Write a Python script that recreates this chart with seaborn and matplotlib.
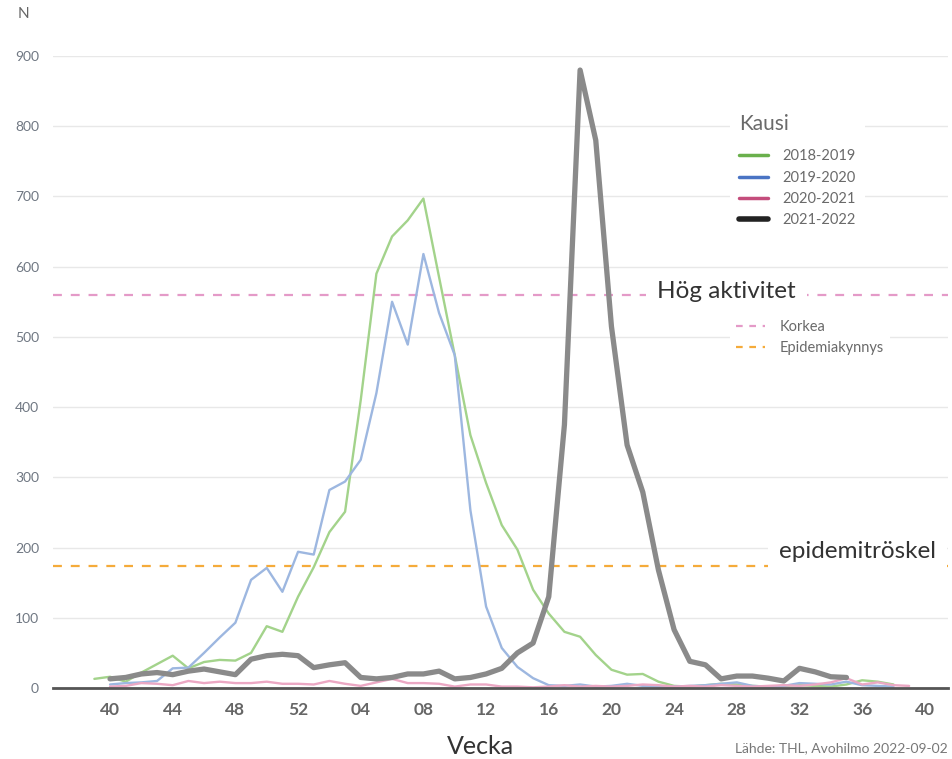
import numpy as np
import pandas as pd
import matplotlib
matplotlib.use('Agg')
import matplotlib.pyplot as plt
from matplotlib.lines import Line2D
import seaborn as sns

# weeks of one season, from week 39 to week 40 of the next year
weeks = list(range(39, 53)) + list(range(1, 41))
pos = list(range(len(weeks)))

# 2018-2019: weeks 39..38
s1819 = [13, 16, 9, 22, 34, 46, 28, 37, 40, 39, 50, 88, 80, 130,
         172, 222, 251, 410, 590, 643, 666, 697, 585, 474, 360, 292, 232, 197,
         140, 106, 80, 73, 47, 26, 19, 20, 9, 3, 2, 4, 6, 5, 3, 2, 3, 4, 3, 2,
         5, 11, 9, 5]
# 2019-2020: weeks 40..38
s1920 = [5, 7, 8, 10, 28, 29, 50, 72, 93, 154, 171, 137, 194,
         190, 282, 294, 325, 420, 550, 489, 618, 534, 474, 253, 116, 57, 30,
         14, 4, 3, 5, 2, 3, 6, 3, 2, 2, 3, 4, 6, 8, 3, 2, 3, 7, 6, 5, 9, 4, 3, 2]
# 2020-2021: weeks 40..39
s2021 = [2, 3, 7, 6, 4, 10, 7, 9, 7, 7, 9, 6, 6,
         5, 10, 6, 3, 8, 13, 7, 7, 6, 2, 5, 5, 2, 2, 1, 2, 4, 2, 3, 2, 3, 5, 4,
         2, 3, 2, 4, 3, 2, 3, 4, 3, 5, 8, 14, 5, 8, 4, 3]
# 2021-2022: weeks 40..35
s2122 = [13, 15, 20, 22, 19, 24, 27, 23, 19, 41, 46, 48, 46,
         29, 33, 36, 15, 13, 15, 20, 20, 24, 13, 15, 20, 28, 50, 64, 130, 375,
         880, 780, 515, 346, 279, 168, 83, 38, 33, 13, 17, 17, 14, 10, 28, 23,
         16, 15]

seasons = ['2018-2019', '2019-2020', '2020-2021', '2021-2022']
series = [s1819, s1920, s2021, s2122]
start_pos = [0, 1, 1, 1]

korkea = 560
epidemiakynnys = 174

tick_weeks = [40, 44, 48, 52, 4, 8, 12, 16, 20, 24, 28, 32, 36, 40]

rows = []
for name, vals, st in zip(seasons, series, start_pos):
    for i, v in enumerate(vals):
        rows.append({'Kausi': name, 'pos': pos[st + i], 'N': v})
df = pd.DataFrame(rows)

sns.set_theme(style='white')
plt.rcParams['font.family'] = ['Lato', 'DejaVu Sans']

fig = plt.figure(figsize=(9.52, 7.59), dpi=100)
ax = fig.add_axes([53 / 952, 1 - 688 / 759, 895 / 952, 632 / 759])

plot_colors = {'2018-2019': '#a3d38b', '2019-2020': '#9db7e0',
               '2020-2021': '#eba8c4', '2021-2022': '#8a8a8a'}
legend_colors = {'2018-2019': '#6ab04c', '2019-2020': '#4a74c4',
                 '2020-2021': '#c44d7c', '2021-2022': '#222222'}
widths = {'2018-2019': 1.7, '2019-2020': 1.7, '2020-2021': 1.7, '2021-2022': 3.8}

for name in seasons:
    sub = df[df['Kausi'] == name]
    sns.lineplot(data=sub, x='pos', y='N', ax=ax, color=plot_colors[name],
                 lw=widths[name], legend=False, zorder=3 if name == '2021-2022' else 2)

ax.axhline(korkea, color='#e49ac8', lw=1.6, ls=(0, (4, 4)), zorder=1)
ax.axhline(epidemiakynnys, color='#f5ab3a', lw=1.6, ls=(0, (4, 4)), zorder=1)

ax.set_xlim(-2.64, 54.48)
ax.set_ylim(0, 900)
ax.set_yticks(range(0, 1000, 100))
ax.yaxis.grid(True, color='#e8e8e8', lw=1)
ax.set_axisbelow(True)

tick_pos = [1 + 4 * i for i in range(len(tick_weeks))]
ax.set_xticks(tick_pos)
ax.set_xticklabels([f'{w:02d}' for w in tick_weeks], fontsize=12.5, fontweight='bold', color='#666666')
ax.tick_params(axis='y', labelsize=10, labelcolor='#6f7782', length=0, pad=10)
ax.tick_params(axis='x', length=0, pad=10)
ax.set_xlabel('')
ax.set_ylabel('')
for s in ['top', 'right', 'left']:
    ax.spines[s].set_visible(False)
ax.spines['bottom'].set_color('#555555')
ax.spines['bottom'].set_linewidth(2)

# annotations with white boxes
ax.text(657 / 952, 1 - 291 / 759, 'Hög aktivitet', transform=fig.transFigure, fontsize=17.5,
        color='#333333', va='center', ha='left', zorder=5,
        bbox=dict(facecolor='white', edgecolor='none', pad=8))
ax.text(779 / 952, 1 - 551 / 759, 'epidemitröskel', transform=fig.transFigure, fontsize=17.5,
        color='#333333', va='center', ha='left', zorder=5,
        bbox=dict(facecolor='white', edgecolor='none', pad=8))

h1 = [Line2D([0], [0], color=legend_colors[n], lw=4 if n == '2021-2022' else 2.5) for n in seasons]
leg1 = ax.legend(h1, seasons, title='Kausi', loc='upper left',
                 bbox_to_anchor=(723 / 952, 1 - 98 / 759), bbox_transform=fig.transFigure,
                 frameon=True, facecolor='white', edgecolor='none', framealpha=1,
                 fontsize=10.5, title_fontsize=15, handlelength=2.0, handletextpad=1.0,
                 labelspacing=0.5, alignment='left', borderpad=0.6)
leg1._legend_box.sep = 11  # more room under the title
for t in leg1.get_texts():
    t.set_color('#6a6a6a')
leg1.get_title().set_color('#6a6a6a')
leg1.set_zorder(6)
ax.add_artist(leg1)

h2 = [Line2D([0], [0], color='#e49ac8', lw=1.6, ls=(0, (3, 3))),
      Line2D([0], [0], color='#f5ab3a', lw=1.6, ls=(0, (3, 3)))]
leg2 = ax.legend(h2, ['Korkea', 'Epidemiakynnys'], loc='upper left',
                 bbox_to_anchor=(723 / 952, 1 - 307 / 759), bbox_transform=fig.transFigure,
                 frameon=True, facecolor='white', edgecolor='none', framealpha=1,
                 fontsize=10.5, handlelength=2.0, handletextpad=1.0, labelspacing=0.5,
                 borderpad=0.4)
for t in leg2.get_texts():
    t.set_color('#6a6a6a')
leg2.set_zorder(6)

fig.text(18 / 952, 1 - 14 / 759, 'N', fontsize=11, color='#666666', va='center', ha='left')
fig.text(480 / 952, 1 - 746 / 759, 'Vecka', fontsize=18, color='#333333', va='center', ha='center')
fig.text(948 / 952, 1 - 748 / 759, 'Lähde: THL, Avohilmo 2022-09-02', fontsize=10,
         color='#777777', va='center', ha='right')

fig.savefig('out.png', dpi=100)
